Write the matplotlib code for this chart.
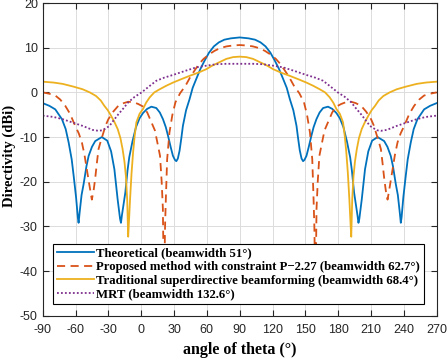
import matplotlib
matplotlib.use("Agg")
import matplotlib.pyplot as plt

plt.rcParams["axes.unicode_minus"] = False

# ---- data ----
theta_theory = [-90, -84, -78.5, -72.4, -69, -66.3, -63.5, -61.7, -59.5, -57.9, -57.2, -56.3, -54.5, -52.6, -50, -48, -45, -42, -36, -31, -27.5, -24.5, -21.5, -19.3, -18.5, -17.6, -14.5, -12.5, -10.9, -8, -4.8, -1.5, 1.7, 5.4, 9.3, 13.8, 17, 19.9, 22.5, 24.5, 27, 29, 30.8, 32.1, 33.5, 35.1, 36.8, 38.1, 41, 44.2, 47, 50.3, 54, 57.9, 62, 66.4, 71, 76, 82, 90,
                98, 104, 109, 113.6, 118, 122.1, 126, 129.7, 133, 135.8, 139, 141.9, 143.2, 144.9, 146.5, 147.9, 149.2, 151, 153, 155.5, 157.5, 160.1, 163, 166.2, 170.7, 174.6, 178.3, 181.5, 184.8, 188, 190.9, 192.5, 194.5, 197.6, 198.5, 199.3, 201.5, 204.5, 207.5, 211, 216, 222, 225, 228, 230, 232.6, 234.5, 236.3, 237.2, 237.9, 239.5, 241.7, 243.5, 246.3, 249, 252.4, 258.5, 264, 270]
dir_theory = [-2.4, -3.0, -3.8, -6.0, -8.2, -11.2, -15, -18.7, -23.5, -28, -29.2, -27, -23, -20.5, -16.5, -14.2, -12.2, -10.9, -10.0, -10.8, -13.2, -17.2, -24, -28.3, -29.2, -27.5, -22.4, -17.5, -14.5, -11, -7.8, -5.8, -4.6, -3.7, -3.2, -3.5, -4.5, -6, -7.8, -9.7, -12.3, -14.2, -15.1, -15.4, -14.8, -13, -10, -7.5, -4, -1.5, 1, 3, 5.2, 7.1, 8.9, 10.3, 11.2, 11.8, 12.1, 12.3,
              12.1, 11.8, 11.2, 10.3, 8.9, 7.1, 5.2, 3, 1, -1.5, -4, -7.5, -10, -13, -14.8, -15.4, -15.1, -14.2, -12.3, -9.7, -7.8, -6, -4.5, -3.5, -3.2, -3.7, -4.6, -5.8, -7.8, -11, -14.5, -17.5, -22.4, -27.5, -29.2, -28.3, -24, -17.2, -13.2, -10.8, -10.0, -10.9, -12.2, -14.2, -16.5, -20.5, -23, -27, -29.2, -28, -23.5, -18.7, -15, -11.2, -8.2, -6.0, -3.8, -3.0, -2.4]

theta_proposed = [-90, -84, -78.5, -74, -69.4, -65, -60.3, -57, -54.2, -51.8, -49.7, -47.5, -45.1, -43.5, -42, -40.5, -39, -36.8, -34.5, -32.5, -30, -25.5, -20.9, -16, -11.8, -7, -2.7, 1.9, 5.5, 9, 12.5, 15, 17.2, 18.7, 19.8, 20.8, 21.8, 22.5, 23.7, 25.8, 28.5, 31.3, 35.5, 40.5, 45, 49.6, 53, 57, 62, 67, 72, 78, 84, 90,
                  96, 102, 108, 113, 118, 123, 127, 130.4, 135, 139.5, 144.5, 148.7, 151.5, 154.2, 156.3, 157.5, 158.2, 159.2, 160.2, 161.3, 162.8, 165, 167.5, 171, 174.5, 178.1, 182.7, 187, 191.8, 196, 200.9, 205.5, 210, 212.5, 214.5, 216.8, 219, 220.5, 222, 223.5, 225.1, 227.5, 229.7, 231.8, 234.2, 237, 240.3, 245, 249.4, 254, 258.5, 264, 270]
dir_proposed = [0, -0.3, -0.7, -1.6, -3.0, -4.8, -7.5, -9.2, -11.2, -14, -17.2, -20.5, -24, -22, -19.2, -15.8, -12.7, -10.8, -9, -7.4, -6, -4.3, -3, -2.4, -2.1, -2.2, -2.6, -3.2, -4.5, -6.5, -8.5, -11.5, -14.2, -20, -26, -46, -30, -24, -15, -9, -5, -2.2, -0.2, 1.5, 3.5, 5.2, 6.4, 7.5, 8.5, 9.3, 9.9, 10.3, 10.5, 10.6,
                10.5, 10.3, 9.9, 9.3, 8.5, 7.5, 6.4, 5.2, 3.5, 1.5, -0.2, -2.2, -5, -9, -15, -24, -30, -46, -26, -20, -14.2, -11.5, -8.5, -6.5, -4.5, -3.2, -2.6, -2.2, -2.1, -2.4, -3, -4.3, -6, -7.4, -9, -10.8, -12.7, -15.8, -19.2, -22, -24, -20.5, -17.2, -14, -11.2, -9.2, -7.5, -4.8, -3.0, -1.6, -0.7, -0.3, 0]

theta_traditional = [-90, -80, -71.7, -62, -53.5, -47, -41.3, -37, -33.7, -30.5, -27.6, -24.5, -21.5, -19, -17, -15.3, -14, -12.8, -11.9, -11, -10.2, -8.8, -7.4, -6, -4.4, -1.5, 1.7, 4.5, 7.8, 12, 16.9, 23, 29.1, 36, 44.2, 52, 59.5, 65, 71, 77.8, 84, 90,
                     96, 102.2, 109, 115, 120.5, 128, 135.8, 144, 150.9, 157, 163.1, 168, 172.2, 175.5, 178.3, 181.5, 184.4, 186, 187.4, 188.8, 190.2, 191, 191.9, 192.8, 194, 195.3, 197, 199, 201.5, 204.5, 207.6, 210.5, 213.7, 217, 221.3, 227, 233.5, 242, 251.7, 260, 270]
dir_traditional = [2.4, 2.2, 1.9, 1.3, 0.7, 0, -0.8, -1.8, -3.0, -4, -5.2, -6.6, -8.2, -10.2, -12.7, -15.5, -18.7, -24, -32.3, -28, -24, -18, -13.4, -9.8, -6.7, -4.8, -3.7, -2.3, -1.1, 0, 0.7, 1.5, 2.2, 2.9, 3.7, 4.4, 5.2, 6, 6.7, 7.5, 7.9, 8.0,
                   7.9, 7.5, 6.7, 6, 5.2, 4.4, 3.7, 2.9, 2.2, 1.5, 0.7, 0, -1.1, -2.3, -3.7, -4.8, -6.7, -9.8, -13.4, -18, -24, -28, -32.3, -24, -18.7, -15.5, -12.7, -10.2, -8.2, -6.6, -5.2, -4, -3.0, -1.8, -0.8, 0, 0.7, 1.3, 1.9, 2.2, 2.4]

theta_mrt = [-90, -80, -71.7, -62, -53.5, -44.4, -39, -36, -32, -29, -25, -20.9, -16, -11.8, -6, 0.4, 7, 13.8, 21, 29, 40, 50.3, 60, 68.6, 78, 90,
             102, 111.4, 120, 129.7, 140, 151, 159, 166.2, 173, 179.6, 186, 191.8, 196, 200.9, 205, 209, 212, 216, 219, 224.4, 233.5, 242, 251.7, 260, 270]
dir_mrt = [-5.2, -5.5, -6.0, -6.8, -7.5, -8.4, -8.6, -8.5, -8.0, -7.5, -6.2, -4.9, -3.5, -2.2, -1.0, 0, 1.3, 2.6, 3.3, 3.9, 4.8, 5.6, 6.0, 6.3, 6.4, 6.4,
           6.4, 6.3, 6.0, 5.6, 4.8, 3.9, 3.3, 2.6, 1.3, 0, -1.0, -2.2, -3.5, -4.9, -6.2, -7.5, -8.0, -8.5, -8.6, -8.4, -7.5, -6.8, -6.0, -5.5, -5.2]

labels = ["Theoretical (beamwidth 51°)",
          "Proposed method with constraint P\u22122.27 (beamwidth 62.7°)",
          "Traditional superdirective beamforming (beamwidth 68.4°)",
          "MRT (beamwidth 132.6°)"]
x_ticks = [-90, -60, -30, 0, 30, 60, 90, 120, 150, 180, 210, 240, 270]
y_ticks = [-50, -40, -30, -20, -10, 0, 10, 20]

# ---- figure ----
fig = plt.figure(figsize=(4.48, 3.58), dpi=100)
ax = fig.add_axes([0.0953, 0.118, 0.8795, 0.8735])

lw = 1.3
ax.plot(theta_theory, dir_theory, color="#0072BD", lw=lw, label=labels[0])
ax.plot(theta_proposed, dir_proposed, color="#D95319", lw=lw, ls=(0, (4.5, 3)), label=labels[1])
ax.plot(theta_traditional, dir_traditional, color="#EDB120", lw=lw, label=labels[2])
ax.plot(theta_mrt, dir_mrt, color="#7E2F8E", lw=lw, ls=(0, (1, 1.2)), label=labels[3])

ax.set_xlim(-90, 270)
ax.set_ylim(-50, 20)
ax.set_xticks(x_ticks)
ax.set_yticks(y_ticks)
ax.grid(True, color="#dcdcdc", lw=0.7)
ax.set_axisbelow(True)
ax.tick_params(direction="in", length=4, width=0.8, top=True, right=True,
               labelsize=9, colors="#262626", labelcolor="#262626")
ax.tick_params(axis="x", pad=6)
ax.tick_params(axis="y", pad=3.5)
for lab in ax.get_xticklabels() + ax.get_yticklabels():
    lab.set_fontfamily("Liberation Sans")
for s in ax.spines.values():
    s.set_color("#262626")
    s.set_linewidth(0.8)

ax.set_xlabel("angle of theta (°)", fontfamily="Liberation Serif", fontweight="bold",
              fontsize=11.5, labelpad=4)
ax.set_ylabel("Directivity (dBi)", fontfamily="Liberation Serif", fontweight="bold",
              fontsize=10.5)
ax.yaxis.set_label_coords(-0.068, 0.51)

leg = ax.legend(loc="lower left", bbox_to_anchor=(0.026, 0.037),
                prop={"family": "Liberation Serif", "weight": "bold", "size": 9.2},
                frameon=True, fancybox=False, edgecolor="black", framealpha=1,
                handlelength=2.9, handletextpad=0.2, labelspacing=0.12,
                borderpad=0.3, borderaxespad=0)
leg.get_frame().set_linewidth(0.8)

fig.savefig("out.png", dpi=100)
